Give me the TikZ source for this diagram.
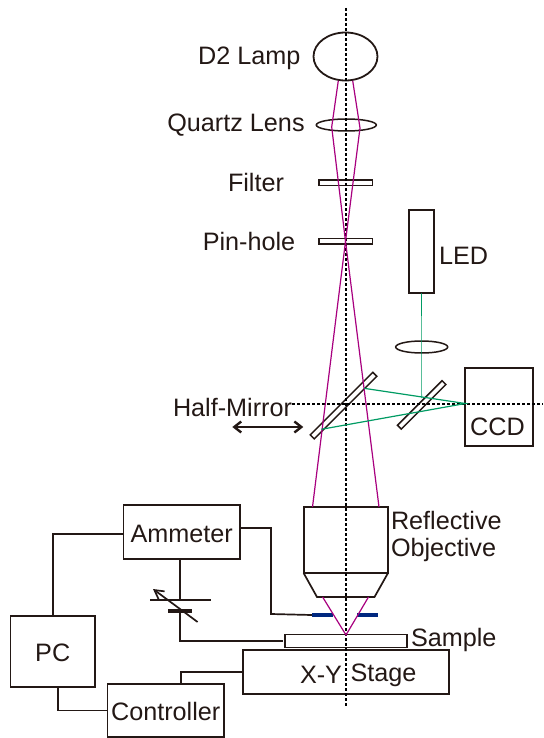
\documentclass[tikz,border=0pt]{standalone}
\usepackage{fontspec}
\setmainfont{Liberation Sans}
\usetikzlibrary{arrows.meta, shapes.geometric}
\definecolor{ink}{HTML}{231815}
\definecolor{raypink}{HTML}{A8007F}
\definecolor{raygreen}{HTML}{009B63}
\definecolor{barblue}{HTML}{00287F}
\begin{document}
\begin{tikzpicture}[x=1pt, y=-1pt]
\tikzstyle{tag} = [inner sep=0, outer sep=0, yshift=-2pt, text=ink, font=\fontsize{25.2}{30}\selectfont]
\tikzstyle{box} = [draw=ink, line width=1.8pt, inner sep=0, outer sep=0, text=ink, font=\fontsize{25.2}{30}\selectfont]
\tikzstyle{boxtext} = [text height=20pt, text depth=0pt]
\tikzstyle{thinbox} = [box, line width=1.5pt]
\tikzstyle{wire} = [draw=ink, line width=1.7pt]
\tikzstyle{axisline} = [draw=black, line width=1.7pt, dash pattern=on 3pt off 2pt]
\tikzstyle{uvray} = [draw=raypink, line width=1.2pt]
\tikzstyle{ledray} = [draw=raygreen, line width=1.2pt]
\useasboundingbox (0,0) rectangle (543,738);

% optics along the axis
\node[box, ellipse, minimum width=64pt, minimum height=48pt] (lamp) at (345.5,56.5) {};
\node[thinbox, ellipse, minimum width=60pt, minimum height=12pt] (lens) at (346.3,125) {};
\node[thinbox, minimum width=53.5pt, minimum height=5.5pt] (filter) at (345.5,182.7) {};
\node[thinbox, minimum width=53.5pt, minimum height=5.5pt] (pinhole) at (345.5,241.3) {};
\node[thinbox, minimum width=88.5pt, minimum height=5.6pt, rotate=45] (halfmirror) at (343.5,405.6) {};
\node[thinbox, minimum width=63pt, minimum height=5.4pt, rotate=45] (mirror) at (421.7,404.9) {};

% LED branch
\node[box, minimum width=25.6pt, minimum height=83.3pt] (led) at (421.5,251.7) {};
\node[thinbox, ellipse, minimum width=52pt, minimum height=12pt] (ledlens) at (421.7,347) {};
\node[box, minimum width=68pt, minimum height=77.4pt] (ccd) at (499.3,407) {};
\node[tag] (ccdtext) at (497.5,425) {CCD};

% objective
\node[box, minimum width=84.4pt, minimum height=66pt] (objective) at (345.8,540) {};
\coordinate (objll) at (317,597);
\coordinate (objlr) at (374.5,597);
\draw[wire] (objective.south west) -- (objll) -- (objlr) -- (objective.south east);

% boxes
\node[box, boxtext, minimum width=116.6pt, minimum height=54pt] (ammeter) at (181.7,532) {Ammeter};
\node[box, boxtext, minimum width=84.6pt, minimum height=71.6pt] (pc) at (52.7,651.5) {PC};
\node[box, boxtext, minimum width=116.5pt, minimum height=53pt] (controller) at (165.7,710.5) {Controller};
\node[box, minimum width=206.4pt, minimum height=44.3pt] (stage) at (345.8,671.8) {};
\node[tag, anchor=west] (stagetext) at (300,673) {X-Y};
\node[tag, anchor=west] (stagetext2) at (350.5,673) {Stage};
\node[thinbox, minimum width=122pt, minimum height=13pt] (sample) at (346,641) {};
\node[fill=barblue, inner sep=0, minimum width=21pt, minimum height=3.6pt] (barl) at (322.5,615) {};
\node[fill=barblue, inner sep=0, minimum width=21pt, minimum height=3.6pt] (barr) at (367.5,615) {};

% battery
\node[fill=ink, inner sep=0, minimum width=61pt, minimum height=1.5pt] (platelong) at (180,600) {};
\node[fill=ink, inner sep=0, minimum width=24pt, minimum height=4pt] (plateshort) at (180,611) {};
\coordinate (varstart) at (197.6,622);
\coordinate (varend) at (153,589);
\draw[wire, -{Straight Barb[length=9pt,width=10pt]}] (varstart) -- (varend);

% wires
\coordinate (barbend) at (271,614);
\draw[wire] (ammeter.west) ++(0,2) -| (pc.north);
\draw[wire] ([yshift=4pt]ammeter.east) -| (barbend) -- (barl.west);
\draw[wire] (platelong |- ammeter.south) -- (platelong.center);
\draw[wire] (plateshort.center) |- ([xshift=-2pt]sample.west);
\coordinate (pcdrop) at (58,687.3);
\draw[wire] (pcdrop) |- (controller.west);
\coordinate (ctrlup) at (181,684);
\draw[wire] (ctrlup) |- (stage.west);

% axes
\coordinate (axistop) at (346,8);
\coordinate (axisbottom) at (346,706);
\coordinate (axisleft) at (292,403.7);
\coordinate (axisright) at (543,403.7);
\draw[axisline] (axistop) -- (axisbottom);
\draw[axisline] (axisleft) -- (axisright);

% UV rays
\coordinate (lampl) at (338.3,80.7);
\coordinate (lampr) at (352.7,80.7);
\coordinate (lensl) at (331.7,127);
\coordinate (lensr) at (360,128);
\coordinate (objl) at (312.5,507);
\coordinate (objr) at (379,507);
\coordinate (raylow) at (322.6,597);
\coordinate (rayhigh) at (368.5,597);
\coordinate (focus) at (346,635);
\draw[uvray] (lampl) -- (lensl) -- (pinhole.center) -- (objr);
\draw[uvray] (lampr) -- (lensr) -- (pinhole.center) -- (objl);
\draw[uvray] (raylow) -- (focus) -- (rayhigh);

% LED rays
\coordinate (ccdin) at (465.3,403.5);
\coordinate (hitup) at (364,388.3);
\coordinate (hitlow) at (321.3,429.3);
\coordinate (ledhit) at (421.7,398);
\draw[ledray] (hitup) -- (ccdin) -- (hitlow);
\draw[draw=raygreen, line width=.6pt] (led.south) -- (ledhit);

% carriage arrow
\coordinate (slidel) at (232.3,427);
\coordinate (slider) at (303.3,427);
\draw[wire, line width=2.4pt, {Straight Barb[length=7pt,width=11pt]}-{Straight Barb[length=7pt,width=11pt]}] (slidel) -- (slider);

% labels
\node[tag] (lamptext) at (249.3,56) {D2 Lamp};
\node[tag] (lenstext) at (236,123.5) {Quartz Lens};
\node[tag] (filtertext) at (256,180) {Filter};
\node[tag] (pinholetext) at (249,239) {Pin-hole};
\node[tag, anchor=west] (ledtext) at (439,254) {LED};
\node[tag] (halftext) at (232.5,405) {Half-Mirror};
\node[tag, anchor=west] (objtext1) at (391,518) {Reflective};
\node[tag, anchor=west] (objtext2) at (391,548) {Objective};
\node[tag, anchor=west] (sampletext) at (411,638) {Sample};
\end{tikzpicture}
\end{document}
